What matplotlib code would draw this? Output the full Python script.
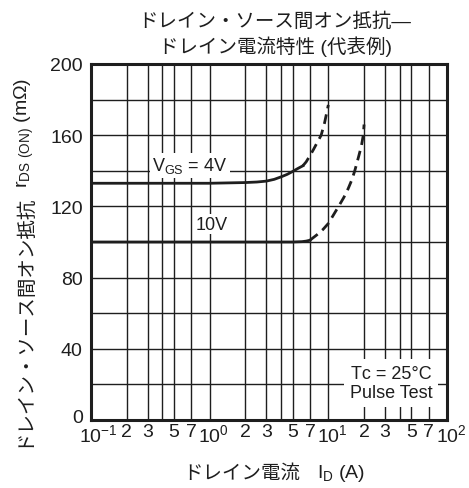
import matplotlib
matplotlib.use('Agg')
import matplotlib.pyplot as plt
from matplotlib.transforms import ScaledTranslation

plt.rcParams['font.family'] = ['Liberation Sans', 'Noto Sans CJK JP', 'DejaVu Sans']
plt.rcParams['mathtext.fontset'] = 'custom'
plt.rcParams['mathtext.rm'] = 'Liberation Sans'

# Data
id_4v_solid = [0.1, 1, 2, 2.5, 3, 3.5, 4, 4.5, 5, 5.5, 6.1]
r_4v_solid = [133, 133, 133.4, 133.7, 134.2, 135.2, 136.6, 138, 139.6, 141.2, 142.8]
id_4v_dash = [6.1, 6.5, 7, 7.5, 8, 8.7, 9.3, 10]
r_4v_dash = [142.8, 145, 148.5, 152, 155.5, 160, 167, 177]

id_10v_solid = [0.1, 5, 6, 6.5, 7]
r_10v_solid = [100, 100, 100.2, 100.5, 101]
id_10v_dash = [7, 8, 9, 10, 11, 12.2, 13.5, 14.7, 15.8, 16.7, 18, 19, 19.7, 20]
r_10v_dash = [101, 104, 107, 110.4, 115, 120, 125, 130, 135, 140, 148, 154, 160, 166]

x_grid = [0.1, 0.2, 0.3, 0.4, 0.5, 0.7, 1, 2, 3, 4, 5, 7, 10, 20, 30, 40, 50, 70, 100]
x_labels = [r'$\mathregular{10^{-1}}$', '2', '3', '', '5', '7',
            r'$\mathregular{10^{0}}$', '2', '3', '', '5', '7',
            r'$\mathregular{10^{1}}$', '2', '3', '', '5', '7',
            r'$\mathregular{10^{2}}$']
y_grid = list(range(0, 201, 20))
y_ticks = [0, 40, 80, 120, 160, 200]

ink = '#1e1e1e'

fig = plt.figure(figsize=(4.69, 4.89), dpi=100)
ax = fig.add_axes([91 / 469, 68 / 489, 356 / 469, 356 / 489])

ax.set_xscale('log')
ax.set_xlim(0.1, 100)
ax.set_ylim(0, 200)

# grid lines
for x in x_grid:
    ax.axvline(x, color=ink, lw=1.0, zorder=1)
for y in y_grid:
    ax.axhline(y, color=ink, lw=1.0, zorder=1)

ax.plot(id_4v_solid, r_4v_solid, color=ink, lw=2.0, zorder=3)
ax.plot(id_4v_dash, r_4v_dash, color=ink, lw=2.0, ls=(0, (3.5, 2.2)), zorder=3)
ax.plot(id_10v_solid, r_10v_solid, color=ink, lw=2.0, zorder=3)
ax.plot(id_10v_dash, r_10v_dash, color=ink, lw=2.0, ls=(0, (3.5, 2.2)), zorder=3)

ax.set_xticks(x_grid)
ax.set_xticklabels(x_labels, fontsize=14)
ax.minorticks_off()
ax.set_yticks(y_ticks)
ax.set_yticklabels([str(v) for v in y_ticks], fontsize=14)
ax.tick_params(length=0, colors=ink)
ax.tick_params(axis='y', pad=6)
ax.tick_params(axis='x', pad=2)

# keep the "10" of each decade label centred on its grid line
for lab, txt in zip(ax.get_xticklabels(), x_labels):
    if txt.startswith('$'):
        dx = 7.5 if '-1' in txt else 4
        lab.set_transform(lab.get_transform() + ScaledTranslation(dx / 100, 0, fig.dpi_scale_trans))

# lift the "0" a little, as in the reference
ylab0 = ax.get_yticklabels()[0]
ylab0.set_transform(ylab0.get_transform() + ScaledTranslation(0, 4 / 100, fig.dpi_scale_trans))

for s in ax.spines.values():
    s.set_linewidth(2.2)
    s.set_color(ink)

ax.text(0.684, 143, r'V$_\mathregular{GS}$ = 4V', fontsize=13, ha='center', va='center',
        color=ink, zorder=4,
        bbox=dict(facecolor='white', edgecolor='none', pad=2))
ax.text(1.04, 110, '10V', fontsize=13, ha='center', va='center', color=ink, zorder=4,
        bbox=dict(facecolor='white', edgecolor='none', pad=1))
ax.text(34, 20.8, 'Tᴄ = 25°C\nPulse Test', fontsize=13, ha='center', va='center',
        color=ink, zorder=4, linespacing=1.2,
        bbox=dict(facecolor='white', edgecolor='none', pad=4))

# titles
fig.text(275 / 469, 1 - 22 / 489, 'ドレイン・ソース間オン抵抗—', fontsize=14,
         ha='center', va='center', color=ink)
fig.text(275 / 469, 1 - 47 / 489, 'ドレイン電流特性 (代表例)', fontsize=14,
         ha='center', va='center', color=ink)

# x label
fig.text(183 / 469, 1 - 474 / 489, 'ドレイン電流', fontsize=14,
         ha='left', va='center', color=ink)
fig.text(317 / 469, 1 - 474 / 489, r'I$_\mathregular{D}$ (A)', fontsize=14,
         ha='left', va='center', color=ink)

# y label
fig.text(28 / 469, 1 - 447 / 489, 'ドレイン・ソース間オン抵抗', fontsize=14,
         rotation=90, rotation_mode='anchor', ha='left', va='baseline', color=ink)
fig.text(28 / 469, 1 - 188 / 489, r'r$_\mathregular{DS\ (ON)}$ (mΩ)', fontsize=14,
         rotation=90, rotation_mode='anchor', ha='left', va='baseline', color=ink)

fig.savefig('out.png', dpi=100)
